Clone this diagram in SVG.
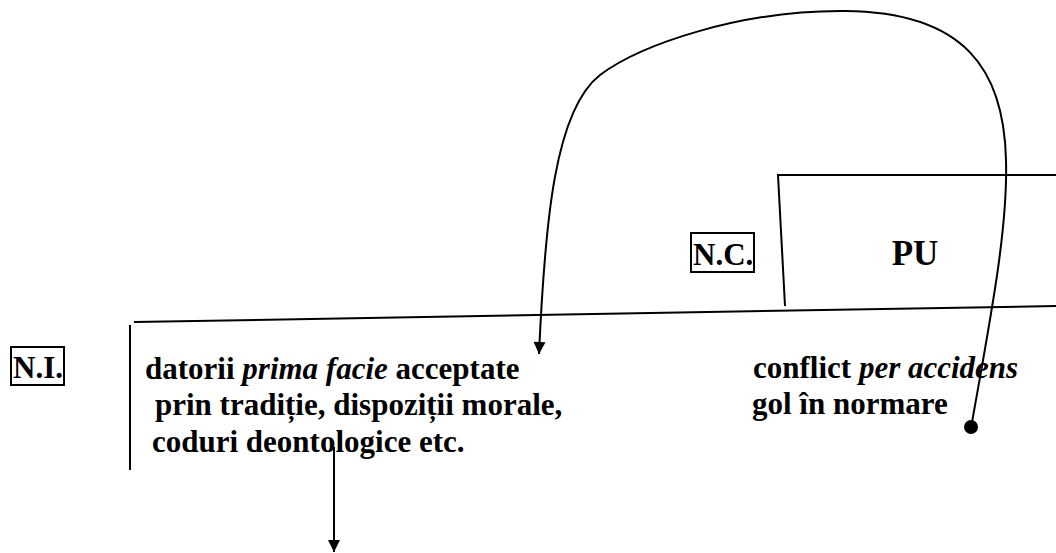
<svg xmlns="http://www.w3.org/2000/svg" width="1056" height="553" viewBox="0 0 1056 553">
<style>
  .t { font-family: "Liberation Serif", "Times New Roman", serif; font-weight: bold; font-size: 31px; fill: #000; }
  .i { font-style: italic; }
  .ln { stroke: #000; stroke-width: 2; fill: none; }
  .box { stroke: #000; stroke-width: 2; fill: none; }
</style>
<defs>
  <marker id="arr" viewBox="0 0 10 10" refX="10" refY="5" markerWidth="13" markerHeight="12" markerUnits="userSpaceOnUse" orient="auto">
    <path d="M0,0 L10,5 L0,10 Z" fill="#000"/>
  </marker>
</defs>
<rect width="1056" height="553" fill="#fff"/>

<g id="frame">
  <line class="ln" x1="134" y1="322" x2="1056" y2="306"/>
  <line class="ln" x1="130" y1="325" x2="130" y2="470"/>
  <polyline class="ln" points="785,306 778,175 1056,175"/>
</g>

<g id="node-ni">
  <rect class="box" x="11" y="347" width="53" height="38"/>
  <text class="t" x="13" y="378">N.I.</text>
</g>

<g id="node-nc">
  <rect class="box" x="691" y="233" width="63" height="39"/>
  <text class="t" x="693" y="265">N.C.</text>
</g>

<g id="node-pu">
  <text class="t" x="915" y="265" text-anchor="middle" style="font-size:35px">PU</text>
</g>

<g id="node-datorii">
  <text class="t" x="145" y="379">datorii <tspan class="i">prima facie</tspan> acceptate</text>
  <text class="t" x="155" y="415">prin tradiție, dispoziții morale,</text>
  <text class="t" x="152" y="452">coduri deontologice etc.</text>
</g>

<g id="node-conflict">
  <text class="t" x="753" y="378">conflict <tspan class="i">per accidens</tspan></text>
  <text class="t" x="752" y="414">gol în normare</text>
</g>

<g id="connectors">
  <path class="ln" d="M971,428 C990,320 1008,230 1006,160 C1004,70 965,12 845,11 C740,10 640,45 600,75 C555,110 545,220 539,354" marker-end="url(#arr)"/>
  <circle cx="971" cy="427" r="7" fill="#000"/>
  <line class="ln" x1="334" y1="447" x2="334" y2="552" marker-end="url(#arr)"/>
</g>
</svg>
